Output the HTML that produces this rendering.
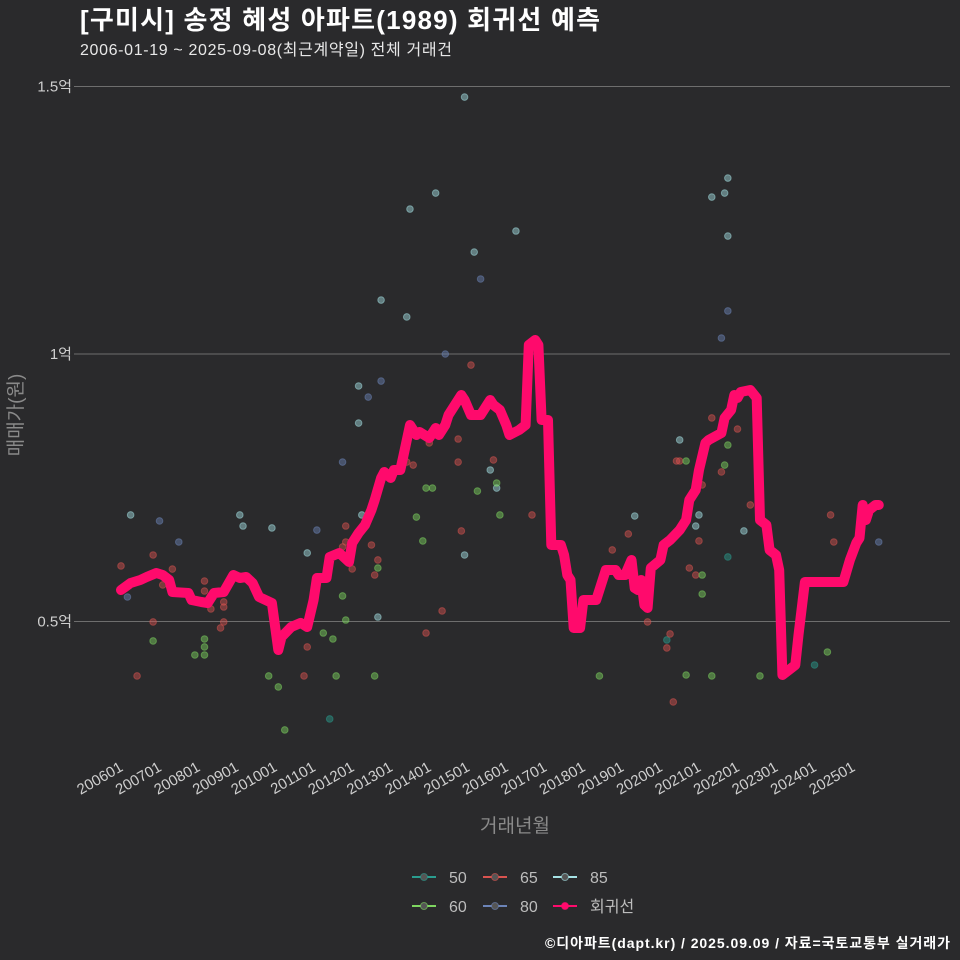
<!DOCTYPE html>
<html><head><meta charset="utf-8"><style>
body{margin:0;background:#2a2a2c;}
svg{display:block;font-family:"Liberation Sans","Noto Sans CJK KR",sans-serif;}
</style></head><body>
<svg id="c" width="960" height="960" viewBox="0 0 960 960">
<rect width="960" height="960" fill="#2a2a2c"/>
<text x="80" y="29" fill="#fff" font-size="26" font-weight="bold" textLength="520">[구미시] 송정 혜성 아파트(1989) 회귀선 예측</text>
<text x="80" y="55" fill="#e8e8e8" font-size="16" textLength="372">2006-01-19 ~ 2025-09-08(최근계약일) 전체 거래건</text>
<text transform="translate(22,415) rotate(-90)" text-anchor="middle" fill="#8a8a8a" font-size="19">매매가(원)</text>
<text x="515" y="832" text-anchor="middle" fill="#8a8a8a" font-size="19">거래년월</text>
<text x="950" y="948" text-anchor="end" fill="#fff" font-size="14" font-weight="bold" textLength="405">©디아파트(dapt.kr) / 2025.09.09 / 자료=국토교통부 실거래가</text>
<g id="grid"></g><g id="pts"></g><g id="line"></g><g id="xt"></g><g id="leg"></g>
</svg>
<script>
const yTickValues=[5000,10000,15000];
const yTickLabels=["0.5억","1억","1.5억"];
const xTickLabels=["200601","200701","200801","200901","201001","201101","201201","201301","201401","201501","201601","201701","201801","201901","202001","202101","202201","202301","202401","202501"];
const seriesNames=["50","60","65","80","85","회귀선"];
const seriesColors={"50":"#2a9d8f","60":"#7ed660","65":"#d9534f","80":"#6c84b8","85":"#a6e3e6","회귀선":"#ff0a6c"};
const lineMonths=[0,3,6,8,11,13,15,16,21,22,25,27,29,32,35,37,39,41,43,45,47,49,50,53,56,58,60,61,64,65,68,71,72,74,76,78,79,81,82,84,85,87,88,90,92,93,96,98,99,101,102,104,106,107,109,112,113,115,116,118,120,121,124,126,127,129,130,131,133,134,137,138,139,140,141,143,144,148,149,151,154,155,157,159,160,161,162,163,164,165,168,169,171,174,176,177,179,180,182,183,187,188,190,191,192,193,196,198,199,201,202,204,205,206,208,210,211,213,225,227,229,230,231,232,233,235,236];
const lineValues=[5589,5720,5776,5832,5907,5869,5776,5552,5533,5402,5365,5346,5533,5552,5869,5813,5832,5720,5458,5402,5346,4468,4711,4898,4973,4898,5402,5813,5813,6206,6281,6112,6468,6654,6804,7084,7271,7682,7795,7682,7832,7832,8112,8673,8486,8542,8430,8617,8486,8673,8860,9047,9234,9140,8860,8860,8953,9140,9047,8953,8673,8486,8580,8673,10168,10262,10168,8766,8766,6430,6430,6243,5869,5776,4879,4879,5402,5402,5589,5963,5963,5869,5869,6150,5627,5589,5776,5309,5253,6000,6150,6430,6524,6711,6898,7271,7458,7832,8337,8393,8524,8804,8953,9234,9178,9290,9327,9178,6898,6804,6337,6243,5963,4000,4094,4187,4748,5739,5739,6150,6468,6561,7178,6897,7084,7178,7178];
const ptMonths=[3,12,18,0,10,16,13,26,26,28,32,32,32,31,10,10,26,26,23,26,5,37,38,47,61,58,70,70,69,72,69,70,63,66,58,46,49,57,67,65,51,69,74,74,2,81,81,77,75,78,79,80,80,80,79,89,90,98,101,107,110,112,123,89,91,92,94,95,97,95,100,96,105,105,106,107,109,111,115,116,117,117,118,128,149,153,158,160,164,170,170,171,172,174,173,174,176,176,177,179,179,180,181,181,180,181,184,184,184,188,189,189,189,187,187,188,189,189,192,194,196,199,216,220,221,222,236];
const ptValues=[6991,6879,6486,6038,6243,5981,5683,5757,5570,5234,5271,5365,4991,4879,4991,4636,4673,4524,4374,4374,3982,6991,6785,6748,6710,6281,6785,6486,6393,5982,5477,5028,4785,4673,4524,3982,3776,3982,3982,3178,2973,7981,8710,9402,5458,11009,9495,9196,6991,6430,5869,6150,6000,5084,3982,10692,12710,13009,10000,14803,11906,11402,12299,7981,7925,6953,6505,7495,7495,4785,5197,8337,8411,7981,6692,6243,9794,7439,7832,8019,7495,7589,6991,6991,3982,6337,6636,6972,4991,4655,4505,4767,3496,8393,8000,8000,8000,4000,6000,5869,6785,6991,5869,5514,6505,7552,12934,3982,8804,13009,13289,12205,10804,10299,7795,7925,8299,6206,8598,6692,7178,3982,4187,4430,6991,6486,6486];
const ptTypes=["85","80","80","65","65","65","65","65","65","65","65","65","65","65","65","60","60","60","60","60","65","85","85","85","80","85","65","65","65","65","60","60","60","60","65","60","60","65","60","50","60","80","85","85","80","85","80","80","85","65","65","65","60","85","60","85","85","85","80","85","85","80","85","65","65","60","60","60","60","65","65","65","65","65","65","85","65","60","85","65","85","60","60","65","60","65","65","85","65","50","65","65","65","85","65","65","60","60","65","65","85","85","60","60","65","65","85","60","65","85","85","85","80","80","65","60","60","50","65","85","65","60","50","60","65","65","80"];

const NS="http://www.w3.org/2000/svg";
function X(m){return 121+m*38.53/12;}
function Y(v){return 354-(v-10000)*267.5/5000;}
function mk(tag,attrs,parent){const e=document.createElementNS(NS,tag);for(const k in attrs)e.setAttribute(k,attrs[k]);parent.appendChild(e);return e;}
const grid=document.getElementById('grid');
yTickValues.forEach((v,i)=>{
  const l=mk('line',{x1:74,x2:950,y1:Y(v),y2:Y(v),stroke:'#6e6e6e','stroke-width':1},grid);
  
  
  const t=mk('text',{x:72,y:Y(v)+5,'text-anchor':'end',fill:'#cfcfcf','font-size':15},grid);
  t.textContent=yTickLabels[i];
  
  
});
const xt=document.getElementById('xt');
xTickLabels.forEach((s,i)=>{
  const x=X(i*12);
  const t=mk('text',{transform:`translate(${x+3},${770}) rotate(-30)`,'text-anchor':'end',fill:'#cfcfcf','font-size':15},xt);
  t.textContent=s;
  
  
});
const pts=document.getElementById('pts');
ptMonths.forEach((m,i)=>{
  const c=seriesColors[ptTypes[i]];
  const p=mk('circle',{cx:X(m),cy:Y(ptValues[i]),r:3.3,fill:c,'fill-opacity':0.45,stroke:c,'stroke-opacity':0.5,'stroke-width':1},pts);
  
  
});
const d=lineMonths.map((m,i)=>(i?'L':'M')+X(m).toFixed(1)+','+Y(lineValues[i]).toFixed(1)).join(' ');
const ln=mk('path',{d:d,fill:'none',stroke:'#ff0a6c','stroke-width':10,'stroke-linejoin':'round','stroke-linecap':'round'},document.getElementById('line'));


const leg=document.getElementById('leg');
const pos=[[412,877],[412,906],[483,877],[483,906],[553,877],[553,906]];
const order=["50","60","65","80","85","회귀선"];
order.forEach((n,i)=>{
  const [x,y]=pos[i];const c=seriesColors[n];
  const g=mk('g',{},leg);
  
  
  mk('line',{x1:x,x2:x+24,y1:y,y2:y,stroke:c,'stroke-width':2},g);
  mk('circle',{cx:x+12,cy:y,r:3.5,fill:n==='회귀선'?c:'#555',stroke:c,'stroke-opacity':0.6},g);
  const t=mk('text',{x:x+37,y:y+6,fill:'#bdbdbd','font-size':16},g);
  t.textContent=n;
});
</script>
</body></html>
